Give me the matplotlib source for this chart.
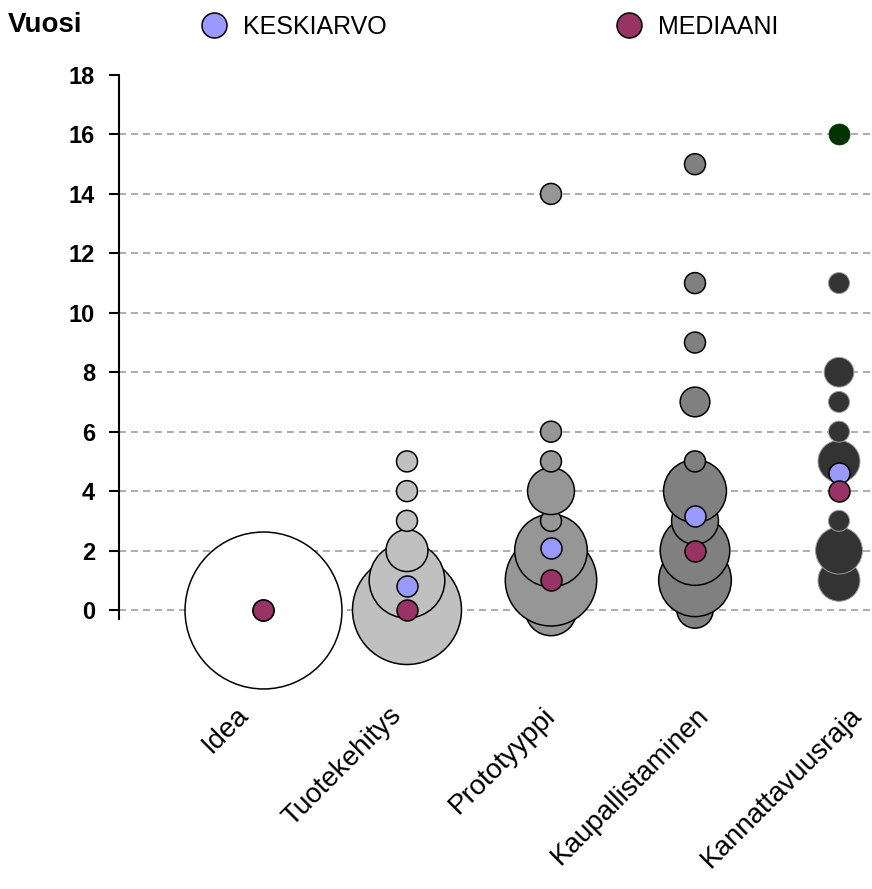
import matplotlib

matplotlib.use("Agg")
import matplotlib.pyplot as plt
from matplotlib.lines import Line2D
from matplotlib.transforms import ScaledTranslation

plt.rcParams["font.family"] = ["Liberation Sans", "DejaVu Sans"]

categories = ["Idea", "Tuotekehitys", "Prototyyppi", "Kaupallistaminen", "Kannattavuusraja"]

# years from start of phase -> number of answers (bubble size)
idea_years = [0]
idea_counts = [56]
tuote_years = [0, 1, 2, 3, 4, 5]
tuote_counts = [27, 13, 4, 1, 1, 1]
proto_years = [0, 1, 2, 3, 4, 5, 6, 14]
proto_counts = [6, 19, 12, 1, 5, 1, 1, 1]
kaup_years = [0, 1, 2, 3, 4, 5, 7, 9, 11, 15]
kaup_counts = [3, 12, 11, 5, 9, 1, 2, 1, 1, 1]
kann_years = [1, 2, 3, 5, 6, 7, 8, 11]
kann_counts = [4, 5, 1, 4, 1, 1, 2, 1]
kann_max_year = [16]
kann_max_count = [1]

mean_years = [0.0, 0.8, 2.1, 3.15, 4.6]
median_years = [0, 0, 1, 2, 4]

y_ticks = [0, 2, 4, 6, 8, 10, 12, 14, 16, 18]

SIZE_PER_COUNT = 228
MEAN_COLOR = "#9999FF"
MEDIAN_COLOR = "#993366"

fig = plt.figure(figsize=(8.72, 8.89), dpi=100)
ax = fig.add_axes([119 / 872, 0.3038, 753 / 872, 0.9156 - 0.3038])

series = [
    (idea_years, idea_counts, "white", "black"),
    (tuote_years, tuote_counts, "#C0C0C0", "black"),
    (proto_years, proto_counts, "#969696", "black"),
    (kaup_years, kaup_counts, "#808080", "black"),
    (kann_years, kann_counts, "#333333", "#9a9a9a"),
]
for pos, (years, counts, face, edge) in enumerate(series, start=1):
    ax.scatter(
        [pos] * len(years),
        years,
        s=[c * SIZE_PER_COUNT for c in counts],
        facecolor=face,
        edgecolor=edge,
        linewidth=1.1 if edge == "black" else 0.7,
        clip_on=False,
        zorder=3,
    )

ax.scatter([5] * len(kann_max_year), kann_max_year, s=[c * SIZE_PER_COUNT for c in kann_max_count],
           facecolor="#003300", edgecolor="#003300", linewidth=0.5, clip_on=False, zorder=3)

positions = list(range(1, len(categories) + 1))
ax.scatter(positions, mean_years, s=SIZE_PER_COUNT, facecolor=MEAN_COLOR, edgecolor="black",
           linewidth=1.1, clip_on=False, zorder=4)
ax.scatter(positions, median_years, s=SIZE_PER_COUNT, facecolor=MEDIAN_COLOR, edgecolor="black",
           linewidth=1.1, clip_on=False, zorder=5)

ax.set_xlim(0, 753 / 144)
ax.set_ylim(-0.3, 18)

for side in ["top", "right", "bottom"]:
    ax.spines[side].set_visible(False)
ax.spines["left"].set_linewidth(1.5)

ax.set_yticks(y_ticks)
ax.set_yticklabels([str(t) for t in y_ticks], fontsize=17, fontweight="bold")
ax.tick_params(axis="y", direction="out", length=7.2, width=1.5, pad=10)

ax.grid(axis="y", color="#A0A0A0", linewidth=1.2, linestyle=(0, (4.2, 3.0)))
ax.yaxis.get_gridlines()[-1].set_visible(False)
ax.set_axisbelow(True)

# category labels sit a little wider apart than the bubbles (as in the original)
ax.set_xticks(positions)
ax.set_xticklabels(categories, fontsize=20, rotation=45, ha="right", rotation_mode="anchor")
ax.tick_params(axis="x", length=0, pad=60)
middle = (len(categories) - 1) / 2
for i, label in enumerate(ax.get_xticklabels()):
    dx_px = (i - middle) * 9.5 - 9
    label.set_transform(label.get_transform() + ScaledTranslation(dx_px / 100, 0, fig.dpi_scale_trans))

ax.set_ylabel("Vuosi", rotation=0, fontsize=20, fontweight="bold", ha="left", va="baseline")
ax.yaxis.set_label_coords((8 - 119) / 753, (619 - 32) / 544)

handles = [
    Line2D([], [], marker="o", linestyle="none", markersize=18, markerfacecolor=MEAN_COLOR,
           markeredgecolor="black", markeredgewidth=1.1, label="KESKIARVO"),
    Line2D([], [], marker="o", linestyle="none", markersize=18, markerfacecolor=MEDIAN_COLOR,
           markeredgecolor="black", markeredgewidth=1.1, label="MEDIAANI"),
]
fig.legend(handles=handles, loc="center left", bbox_to_anchor=(201.5 / 872, 1 - 27 / 889),
           ncol=2, frameon=False, fontsize=18, handlelength=1.0, handletextpad=0.66,
           columnspacing=9.2, borderpad=0, borderaxespad=0)

fig.savefig("out.png", dpi=100)
